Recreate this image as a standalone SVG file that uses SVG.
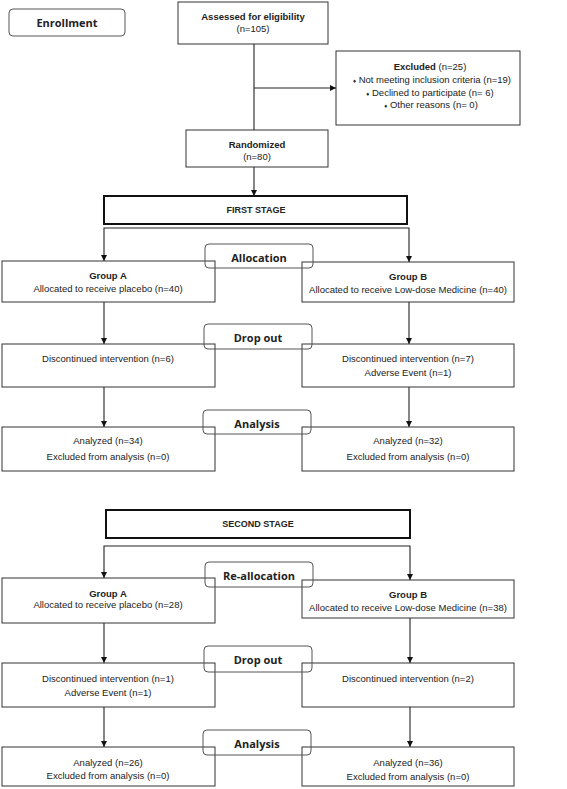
<svg xmlns="http://www.w3.org/2000/svg" width="567" height="789" viewBox="0 0 567 789">
<defs>
<marker id="arr" markerUnits="userSpaceOnUse" markerWidth="7" markerHeight="7" refX="6" refY="3" orient="auto">
<path d="M0,0 L6,3 L0,6 z" fill="#111"/>
</marker>
<style>
.box{fill:#fff;stroke:#333;stroke-width:1}
.stage{fill:#fff;stroke:#111;stroke-width:2}
.lbl{fill:none;stroke:#555;stroke-width:1}
.t{font-family:"Liberation Sans",Arial,sans-serif;font-size:9.5px;fill:#222;text-anchor:middle}
.b{font-weight:bold}
.s{font-size:9px}
.h{font-family:"Open Sans","Noto Sans",sans-serif;font-weight:700;font-size:11px;fill:#222;text-anchor:middle}
.c{fill:none;stroke:#222;stroke-width:1.1}
</style>
</defs>
<rect width="567" height="789" fill="#fff"/>

<g id="connectors">
<path class="c" d="M254,44 V130"/>
<path class="c" d="M254,88 H336" marker-end="url(#arr)"/>
<path class="c" d="M254,167 V196" marker-end="url(#arr)"/>
<path class="c" d="M256,228 H104 V261" marker-end="url(#arr)"/>
<path class="c" d="M256,228 H409 V262" marker-end="url(#arr)"/>
<path class="c" d="M104,302 V344" marker-end="url(#arr)"/>
<path class="c" d="M409,302 V344" marker-end="url(#arr)"/>
<path class="c" d="M104,387 V427" marker-end="url(#arr)"/>
<path class="c" d="M409,387 V427" marker-end="url(#arr)"/>
<path class="c" d="M257,546 H104 V578" marker-end="url(#arr)"/>
<path class="c" d="M257,546 H410 V580" marker-end="url(#arr)"/>
<path class="c" d="M104,623 V663" marker-end="url(#arr)"/>
<path class="c" d="M410,618 V663" marker-end="url(#arr)"/>
<path class="c" d="M104,707 V747" marker-end="url(#arr)"/>
<path class="c" d="M410,707 V747" marker-end="url(#arr)"/>
</g>

<g id="enrollment">
<rect class="lbl" x="9" y="9" width="116" height="27" rx="4"/>
<text class="h" x="67" y="27" font-size="11.5">Enrollment</text>
</g>
<g id="assessed">
<rect class="box" x="178" y="2" width="150" height="42"/>
<text class="t b" x="253" y="20">Assessed for eligibility</text>
<text class="t" x="253" y="32">(n=105)</text>
</g>
<g id="excluded">
<rect class="box" x="336" y="51" width="184" height="74"/>
<text class="t" x="430" y="70"><tspan class="b">Excluded</tspan> (n=25)</text>
<text class="t" x="432" y="83"><tspan font-size="6">♦</tspan> Not meeting inclusion criteria (n=19)</text>
<text class="t" x="430" y="95.5"><tspan font-size="6">♦</tspan> Declined to participate (n= 6)</text>
<text class="t" x="431" y="107.5"><tspan font-size="6">♦</tspan> Other reasons (n= 0)</text>
</g>
<g id="randomized">
<rect class="box" x="186" y="130" width="142" height="37"/>
<text class="t b" x="257" y="148">Randomized</text>
<text class="t" x="257" y="160">(n=80)</text>
</g>

<g id="first-stage">
<rect class="stage" x="104" y="196" width="303" height="28"/>
<text class="t b s" x="256" y="212.5">FIRST STAGE</text>
</g>
<g id="groupA1">
<rect class="box" x="2" y="261" width="213" height="41"/>
<text class="t b" x="108" y="278.5">Group A</text>
<text class="t" x="108" y="291.5">Allocated to receive placebo (n=40)</text>
</g>
<g id="groupB1">
<rect class="box" x="302" y="262" width="212" height="40"/>
<text class="t b" x="408" y="279.5">Group B</text>
<text class="t" x="408" y="292.5">Allocated to receive Low-dose Medicine (n=40)</text>
</g>
<g id="allocation">
<rect class="lbl" x="205" y="244" width="108" height="24" rx="4"/>
<text class="h" x="259" y="262">Allocation</text>
</g>
<g id="dropA1">
<rect class="box" x="2" y="344" width="213" height="43"/>
<text class="t" x="108" y="361.5">Discontinued intervention (n=6)</text>
</g>
<g id="dropB1">
<rect class="box" x="302" y="344" width="212" height="43"/>
<text class="t" x="408" y="361.5">Discontinued intervention (n=7)</text>
<text class="t" x="408" y="375.5">Adverse Event (n=1)</text>
</g>
<g id="dropout1">
<rect class="lbl" x="204" y="324" width="108" height="25" rx="4"/>
<text class="h" x="258" y="341.5">Drop out</text>
</g>
<g id="analysisA1">
<rect class="box" x="2" y="427" width="213" height="44"/>
<text class="t" x="108" y="443.5">Analyzed (n=34)</text>
<text class="t" x="108" y="459.5">Excluded from analysis (n=0)</text>
</g>
<g id="analysisB1">
<rect class="box" x="302" y="427" width="212" height="44"/>
<text class="t" x="408" y="443.5">Analyzed (n=32)</text>
<text class="t" x="408" y="459.5">Excluded from analysis (n=0)</text>
</g>
<g id="analysis1">
<rect class="lbl" x="203" y="410" width="108" height="24" rx="4"/>
<text class="h" x="257" y="427.5">Analysis</text>
</g>

<g id="second-stage">
<rect class="stage" x="106" y="510" width="304" height="28"/>
<text class="t b s" x="258" y="526.5">SECOND STAGE</text>
</g>
<g id="groupA2">
<rect class="box" x="2" y="578" width="213" height="45"/>
<text class="t b" x="108" y="596.5">Group A</text>
<text class="t" x="108" y="607.5">Allocated to receive placebo (n=28)</text>
</g>
<g id="groupB2">
<rect class="box" x="302" y="580" width="212" height="38"/>
<text class="t b" x="408" y="597.5">Group B</text>
<text class="t" x="408" y="611">Allocated to receive Low-dose Medicine (n=38)</text>
</g>
<g id="reallocation">
<rect class="lbl" x="205" y="562" width="108" height="25" rx="4"/>
<text class="h" x="259" y="579.5">Re-allocation</text>
</g>
<g id="dropA2">
<rect class="box" x="2" y="663" width="213" height="44"/>
<text class="t" x="108" y="681.5">Discontinued intervention (n=1)</text>
<text class="t" x="108" y="695.5">Adverse Event (n=1)</text>
</g>
<g id="dropB2">
<rect class="box" x="302" y="663" width="212" height="44"/>
<text class="t" x="408" y="681.5">Discontinued intervention (n=2)</text>
</g>
<g id="dropout2">
<rect class="lbl" x="204" y="646" width="108" height="26" rx="4"/>
<text class="h" x="258" y="663.5">Drop out</text>
</g>
<g id="analysisA2">
<rect class="box" x="2" y="747" width="213" height="39"/>
<text class="t" x="108" y="765.5">Analyzed (n=26)</text>
<text class="t" x="108" y="778.5">Excluded from analysis (n=0)</text>
</g>
<g id="analysisB2">
<rect class="box" x="302" y="747" width="212" height="39"/>
<text class="t" x="408" y="765.5">Analyzed (n=36)</text>
<text class="t" x="408" y="780">Excluded from analysis (n=0)</text>
</g>
<g id="analysis2">
<rect class="lbl" x="203" y="730" width="108" height="25" rx="4"/>
<text class="h" x="257" y="747.5">Analysis</text>
</g>
</svg>
